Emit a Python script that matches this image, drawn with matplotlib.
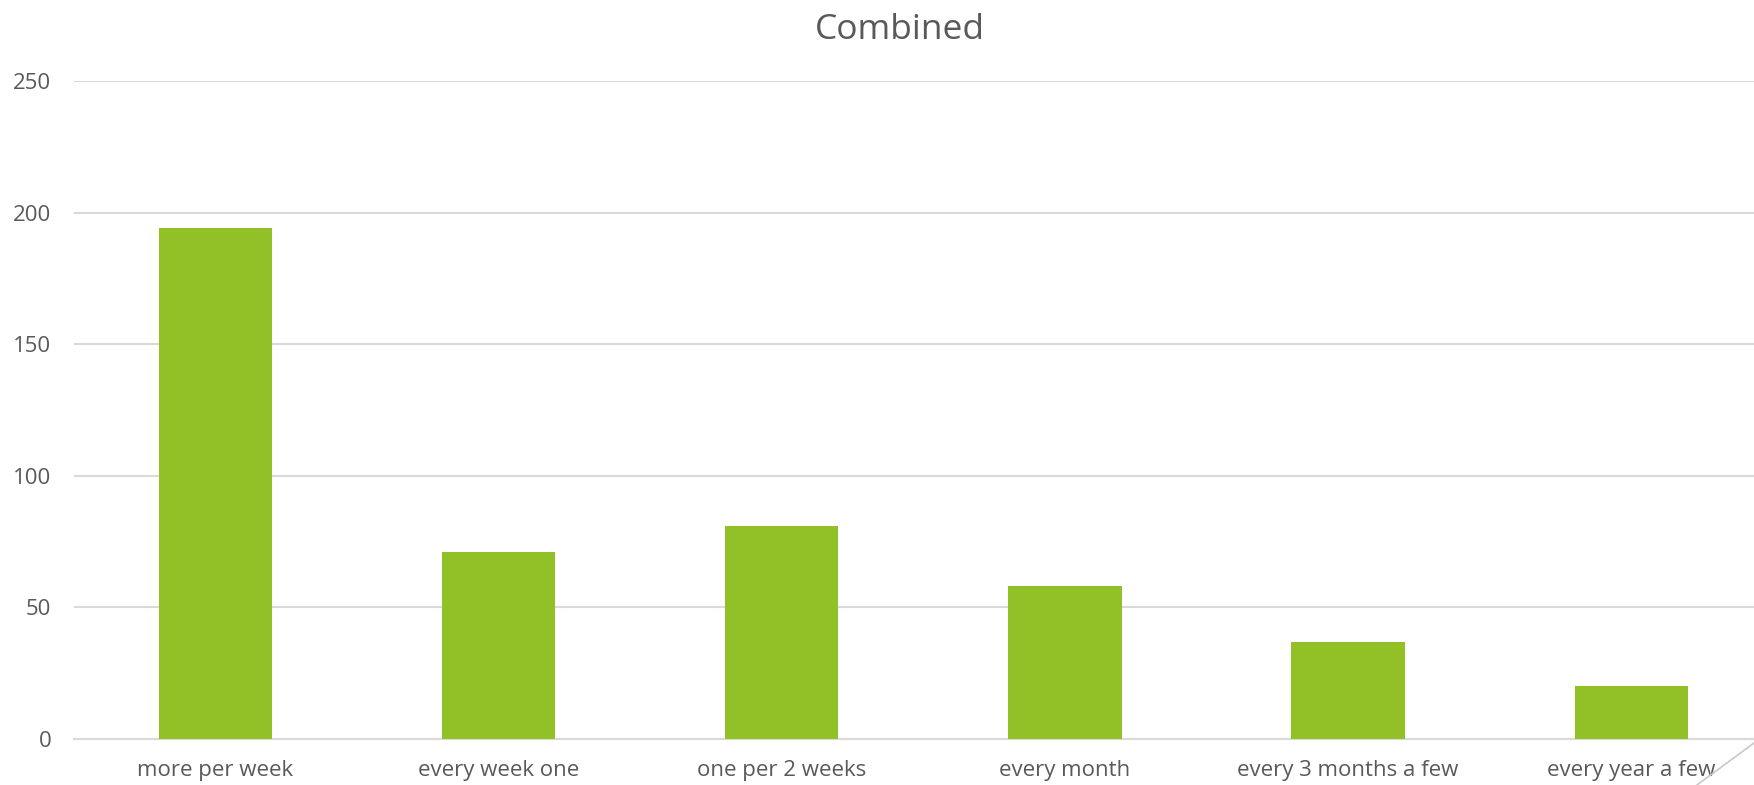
import matplotlib
matplotlib.use("Agg")
import matplotlib.pyplot as plt
from matplotlib.lines import Line2D

categories = ["more per week", "every week one", "one per 2 weeks",
              "every month", "every 3 months a few", "every year a few"]
counts = [194, 71, 81, 58, 37, 20]
y_ticks = [0, 50, 100, 150, 200, 250]

text_grey = "#595959"
grid_grey = "#D9D9D9"
bar_green = "#91C127"

plt.rcParams["font.family"] = ["Open Sans", "DejaVu Sans"]

fig = plt.figure(figsize=(17.54, 7.85), dpi=100)
ax = fig.add_axes([0.042, 0.0586, 0.9688, 0.8382])

x = list(range(len(categories)))
ax.bar(x, counts, width=0.4, color=bar_green, zorder=3)

ax.set_xlim(-0.5, len(categories) - 0.5)
ax.set_ylim(0, 250)
ax.set_yticks(y_ticks)
ax.set_xticks(x)
ax.set_xticklabels(categories)

ax.grid(axis="y", color=grid_grey, linewidth=1.5, zorder=0)
for side in ["top", "right", "left"]:
    ax.spines[side].set_visible(False)
ax.spines["bottom"].set_color(grid_grey)
ax.spines["bottom"].set_linewidth(1.5)

ax.tick_params(axis="both", length=0, labelcolor=text_grey, labelsize=16)
ax.tick_params(axis="x", pad=15)
ax.tick_params(axis="y", pad=16)

fig.text(0.513, 0.962, "Combined", ha="center", va="center",
         fontsize=25.5, color=text_grey)

# resize-handle stroke in the lower right corner
fig.add_artist(Line2D([1697 / 1754, 1.0], [0.0, 42 / 785],
                      color="#C8C8C8", linewidth=1.2))

fig.savefig("out.png", dpi=100)
